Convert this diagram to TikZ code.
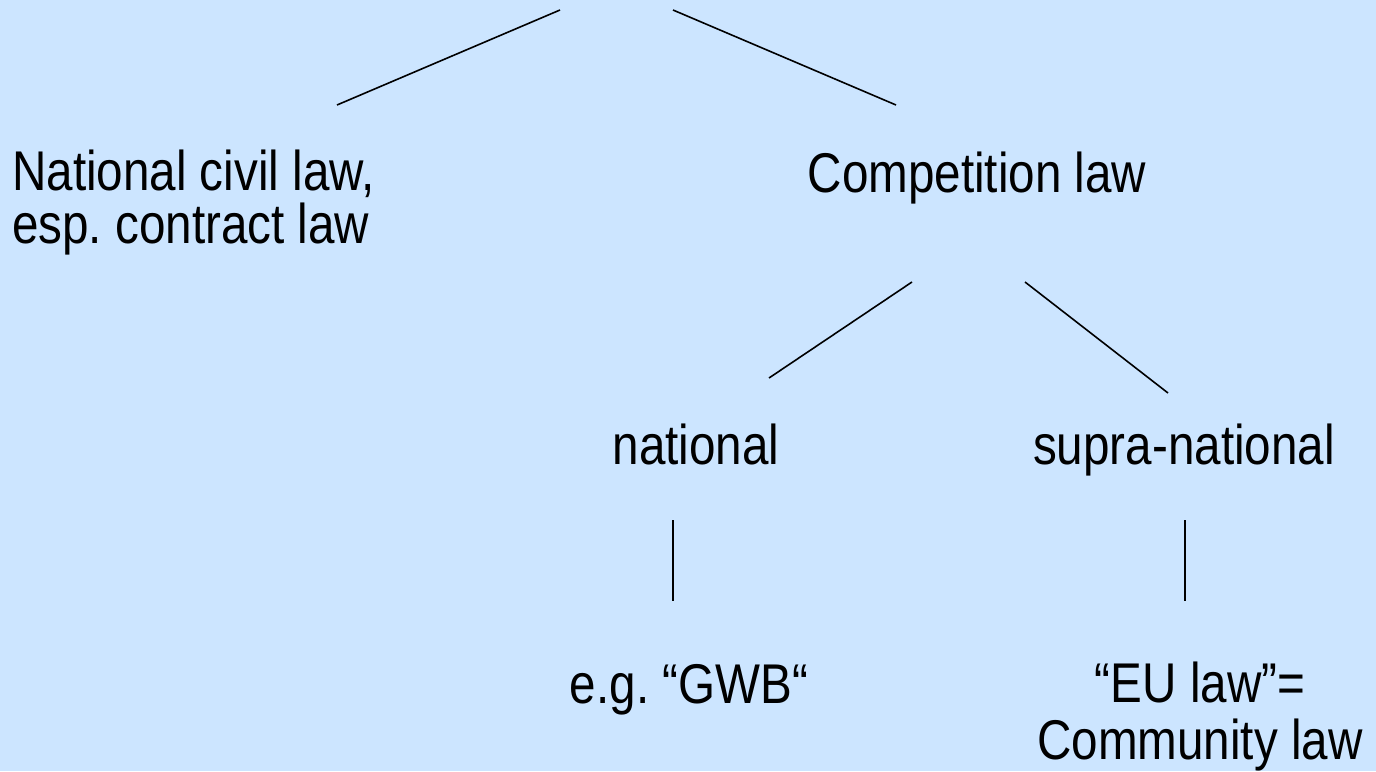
\documentclass[tikz,border=0pt]{standalone}
\usepackage{fontspec}
\setmainfont{Liberation Sans}[FakeStretch=0.85]
\frenchspacing
\begin{document}
\begin{tikzpicture}[x=1pt,y=-1pt,
  lbl/.style={inner sep=0pt,font=\fontsize{56}{57}\selectfont,anchor=base,align=center},
  edge/.style={draw=black,line width=1.6pt}]
\fill[fill={rgb,255:red,204;green,229;blue,255}] (0,0) rectangle (1376,771);
\useasboundingbox (0,0) rectangle (1376,771);
% labels
\node[lbl,anchor=north west,align=left,font=\fontsize{56}{53}\selectfont] (civil) at (12,150) {National civil law,\\esp. contract law};
\node[lbl] (comp) at (977,192) {Competition law};
\node[lbl] (nat) at (696,464) {national};
\node[lbl] (supra) at (1184,464) {supra-national};
\node[lbl] (gwb) at (689,703) {e.g. “GWB“};
\node[lbl,anchor=north] (eu) at (1200,662) {“EU law”=\\Community law};
% connector end points
\coordinate (r1) at (560,10);   \coordinate (r1b) at (337,105);
\coordinate (r2) at (673,10);   \coordinate (r2b) at (896,105);
\coordinate (c1) at (912,282);  \coordinate (c1b) at (769,378);
\coordinate (c2) at (1025,282); \coordinate (c2b) at (1168,393);
\coordinate (n1) at (673,520);  \coordinate (n1b) at (673,601);
\coordinate (s1) at (1185,520); \coordinate (s1b) at (1185,601);
\path[edge] (r1) -- (r1b);
\path[edge] (r2) -- (r2b);
\path[edge] (c1) -- (c1b);
\path[edge] (c2) -- (c2b);
\path[edge] (n1) -- (n1b);
\path[edge] (s1) -- (s1b);
\end{tikzpicture}
\end{document}
